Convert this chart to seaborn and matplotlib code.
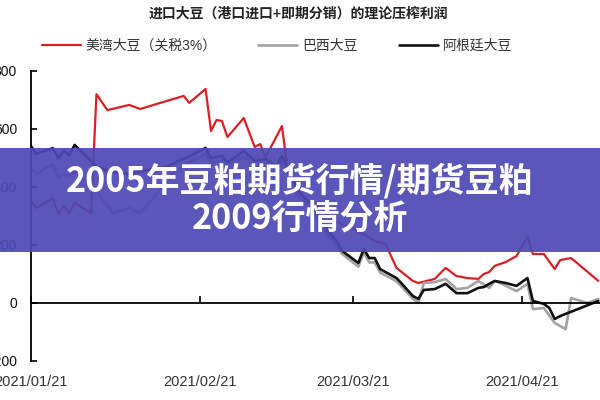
import numpy as np
import pandas as pd
import matplotlib
matplotlib.use('Agg')
import matplotlib.pyplot as plt
import matplotlib.dates as mdates
from matplotlib.patches import Rectangle
import seaborn as sns

# values (yuan/ton)
red_dates = ['2021-01-21', '2021-01-22', '2021-01-25', '2021-01-26', '2021-01-27', '2021-01-28', '2021-01-29',
             '2021-02-01', '2021-02-02', '2021-02-04', '2021-02-08', '2021-02-10', '2021-02-16', '2021-02-18',
             '2021-02-19', '2021-02-22', '2021-02-23', '2021-02-24', '2021-02-25', '2021-02-26', '2021-03-01',
             '2021-03-03', '2021-03-04', '2021-03-05', '2021-03-08', '2021-03-09', '2021-03-12', '2021-03-15',
             '2021-03-17', '2021-03-19', '2021-03-23', '2021-03-25', '2021-03-27', '2021-03-29', '2021-04-01',
             '2021-04-02', '2021-04-05', '2021-04-07', '2021-04-09', '2021-04-11', '2021-04-13', '2021-04-14',
             '2021-04-15', '2021-04-16', '2021-04-18', '2021-04-20', '2021-04-22', '2021-04-23', '2021-04-25',
             '2021-04-27', '2021-04-28', '2021-04-30', '2021-05-05']
red_vals = [350, 328, 362, 307, 334, 310, 345, 310, 720, 665, 683, 669, 703, 714, 690, 738,
            593, 631, 628, 572, 638, 538, 548, 503, 610, 465, 362, 328, 293, 272, 238, 214,
            203, 121, 76, 69, 83, 121, 93, 86, 83, 100, 107, 128, 141, 162, 228, 169,
            169, 117, 148, 155, 76]

black_dates = ['2021-01-21', '2021-01-22', '2021-01-25', '2021-01-26', '2021-01-27', '2021-01-28', '2021-01-29',
               '2021-02-01', '2021-02-02', '2021-02-05', '2021-02-08', '2021-02-13', '2021-02-15', '2021-02-17',
               '2021-02-19', '2021-02-22', '2021-02-23', '2021-02-25', '2021-02-26', '2021-03-01', '2021-03-03',
               '2021-03-05', '2021-03-07', '2021-03-08', '2021-03-09', '2021-03-11', '2021-03-14', '2021-03-16',
               '2021-03-18', '2021-03-19', '2021-03-22', '2021-03-23', '2021-03-24', '2021-03-25', '2021-03-26',
               '2021-03-29', '2021-03-30', '2021-04-01', '2021-04-02', '2021-04-03', '2021-04-05', '2021-04-07',
               '2021-04-09', '2021-04-11', '2021-04-13', '2021-04-14', '2021-04-15', '2021-04-16', '2021-04-18',
               '2021-04-20', '2021-04-22', '2021-04-23', '2021-04-25', '2021-04-26', '2021-04-27', '2021-04-28',
               '2021-05-05']
black_vals = [541, 514, 534, 500, 524, 510, 545, 490, 470, 450, 445, 465, 470, 490,
              505, 535, 500, 507, 485, 524, 490, 496, 472, 507, 470, 386, 328, 259,
              214, 180, 138, 186, 155, 155, 117, 86, 66, 24, 14, 45, 48, 66,
              34, 34, 52, 55, 66, 76, 69, 59, 86, 7, -3, -17, -55, -45, 7]

gray_dates = ['2021-01-21', '2021-01-22', '2021-01-25', '2021-01-26', '2021-01-27', '2021-01-28', '2021-01-29',
              '2021-02-01', '2021-02-02', '2021-02-05', '2021-02-08', '2021-02-10', '2021-02-12', '2021-02-16',
              '2021-02-19', '2021-02-22', '2021-02-23', '2021-02-25', '2021-02-26', '2021-03-01', '2021-03-03',
              '2021-03-05', '2021-03-07', '2021-03-08', '2021-03-09', '2021-03-11', '2021-03-14', '2021-03-16',
              '2021-03-18', '2021-03-19', '2021-03-22', '2021-03-23', '2021-03-24', '2021-03-25', '2021-03-26',
              '2021-03-29', '2021-03-30', '2021-04-01', '2021-04-02', '2021-04-03', '2021-04-05', '2021-04-07',
              '2021-04-09', '2021-04-11', '2021-04-13', '2021-04-15', '2021-04-16', '2021-04-17', '2021-04-20',
              '2021-04-22', '2021-04-23', '2021-04-25', '2021-04-27', '2021-04-29', '2021-04-30', '2021-05-03',
              '2021-05-05']
gray_vals = [465, 445, 479, 431, 445, 438, 455, 410, 386, 310, 328, 310, 352, 445,
             485, 515, 485, 490, 470, 505, 475, 480, 455, 490, 455, 370, 310, 245,
             200, 170, 125, 175, 140, 140, 105, 75, 55, 15, 0, 69, 72, 83,
             48, 52, 76, 52, 76, 69, 41, 66, -21, -17, -69, -90, 17, 0, 14]

series_names = ['美湾大豆（关税3%）', '巴西大豆', '阿根廷大豆']
tick_dates = ['2021-01-21', '2021-02-21', '2021-03-21', '2021-04-21']
tick_labels = ['2021/01/21', '2021/02/21', '2021/03/21', '2021/04/21']
y_ticks = [-200, 0, 200, 400, 600, 800]

frames = []
for name, d, v in zip(series_names, [red_dates, gray_dates, black_dates], [red_vals, gray_vals, black_vals]):
    frames.append(pd.DataFrame({'date': pd.to_datetime(d), 'value': v, 'series': name}))
df = pd.concat(frames, ignore_index=True)

colors = {series_names[0]: '#DC1F26', series_names[1]: '#A3A3A3', series_names[2]: '#111111'}
widths = {series_names[0]: 1.6, series_names[1]: 1.9, series_names[2]: 1.9}

sns.set_theme(style='white')
plt.rcParams['font.family'] = ['Liberation Sans', 'Noto Sans CJK SC', 'DejaVu Sans']
plt.rcParams['axes.unicode_minus'] = False

fig = plt.figure(figsize=(6, 4), dpi=100)
ax = fig.add_axes([31 / 600, 1 - 361 / 400, 1 - 31 / 600, 290 / 400])

for name in series_names:
    sub = df[df['series'] == name]
    sns.lineplot(data=sub, x='date', y='value', color=colors[name], linewidth=widths[name],
                 label=name, ax=ax, legend=False)

start = pd.Timestamp('2021-01-21')
ax.set_xlim(start, start + pd.Timedelta(days=104.3))
ax.set_ylim(-200, 800)
ax.set_yticks(y_ticks)
ax.set_xticks(pd.to_datetime(tick_dates))
ax.set_xticklabels(tick_labels)
ax.set_xlabel('')
ax.set_ylabel('')

ax.spines['top'].set_visible(False)
ax.spines['right'].set_visible(False)
ax.spines['bottom'].set_position(('data', 0))
for s in ['left', 'bottom']:
    ax.spines[s].set_color('black')
    ax.spines[s].set_linewidth(1.3)
ax.tick_params(axis='y', direction='in', length=4, width=1.2, color='black', pad=10,
               labelsize=10, labelcolor='#111111', left=True)
ax.tick_params(axis='x', direction='in', length=5, width=1.2, color='black', pad=52,
               labelsize=10.5, labelcolor='#333333', bottom=True)

plt.title('进口大豆（港口进口+即期分销）的理论压榨利润', fontsize=10, fontweight='bold',
          color='#222222', x=0.47, y=1.155)

handles, labels = ax.get_legend_handles_labels()
fig.legend(handles, labels, loc='center', bbox_to_anchor=(0.462, 1 - 46 / 400), ncol=3,
           frameon=False, fontsize=10, handlelength=2.8, handletextpad=0.35,
           columnspacing=3.0, labelcolor='#333333')

# overlay banner across the chart
fig.patches.append(Rectangle((0, 1 - 252 / 400), 1, 104 / 400, transform=fig.transFigure,
                             facecolor='#4E49B4', alpha=0.93, zorder=10, edgecolor='none'))
banner_font = ['Noto Sans CJK SC', 'DejaVu Sans']
fig.text(0.5, 1 - 181 / 400, '2005年豆粕期货行情/期货豆粕', ha='center', va='center',
         color='white', fontsize=24.5, fontweight='bold', family=banner_font, zorder=11)
fig.text(0.5, 1 - 219 / 400, '2009行情分析', ha='center', va='center',
         color='white', fontsize=24.5, fontweight='bold', family=banner_font, zorder=11)

plt.savefig('out.png', dpi=100)
